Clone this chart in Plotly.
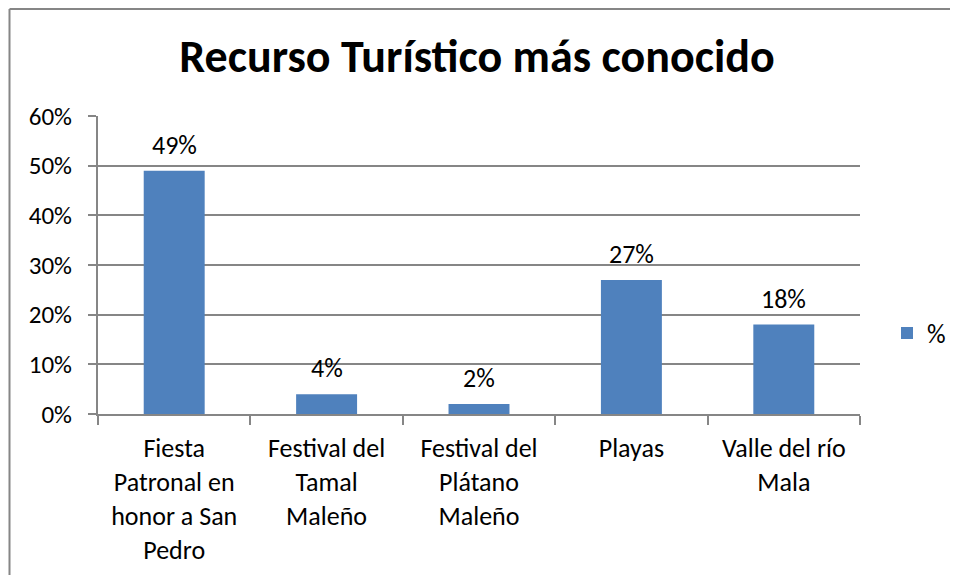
import plotly.graph_objects as go

categories = ["Fiesta<br>Patronal en<br>honor a San<br>Pedro",
              "Festival del<br>Tamal<br>Maleño",
              "Festival del<br>Plátano<br>Maleño",
              "Playas",
              "Valle del río<br>Mala"]
values = [0.49, 0.04, 0.02, 0.27, 0.18]
value_labels = ["49%", "4%", "2%", "27%", "18%"]
tick_vals = [0, 0.1, 0.2, 0.3, 0.4, 0.5, 0.6]
tick_text = ["0%", "10%", "20%", "30%", "40%", "50%", "60%"]
series_name = "%"
title_text = "Recurso Turístico más conocido"

FONT = "Carlito, Lato, sans-serif"
OFF = 8  # page body margin
W, H = 958 - OFF, 575 - OFF
L, T = 98 - OFF, 116 - OFF
R = W - (860 - OFF)
B = H - (414 - OFF)
pw, ph = W - L - R, H - T - B

def px_to_paper_x(px):
    return (px - OFF - L) / pw

def px_to_paper_y(py):
    return 1 - (py - OFF - T) / ph

fig = go.Figure()
fig.add_trace(go.Bar(
    x=categories, y=values, name=series_name,
    marker=dict(color="#4F81BD", line=dict(color="#4F81BD", width=0)),
    showlegend=True,
))

for c, v, t in zip(categories, values, value_labels):
    fig.add_annotation(x=c, y=v, text=t, showarrow=False, yanchor="bottom",
                       yshift=8, font=dict(family=FONT, size=26, color="#000000"))

fig.update_layout(
    width=W, height=H,
    margin=dict(l=L, r=R, t=T, b=B, pad=0, autoexpand=False),
    paper_bgcolor="white", plot_bgcolor="white",
    font=dict(family=FONT, color="#000000"),
    title=dict(text="<b>" + title_text + "</b>", xref="container",
               x=(477 - OFF) / W, xanchor="center",
               y=1 - (56 - OFF) / H, yanchor="middle",
               font=dict(family=FONT, size=46, color="#000000")),
    bargap=0.6,
    legend=dict(x=px_to_paper_x(887), y=px_to_paper_y(333), xanchor="left", yanchor="middle",
                font=dict(family=FONT, size=26), bgcolor="rgba(0,0,0,0)"),
    xaxis=dict(showline=True, linecolor="#868686", linewidth=2, ticks="outside",
               tickson="boundaries", ticklen=9, tickcolor="#868686", tickwidth=2,
               tickfont=dict(family=FONT, size=26), showgrid=False,
               ticklabelstandoff=10, automargin=False),
    yaxis=dict(range=[0, 0.6], tickvals=tick_vals, ticktext=tick_text,
               showline=True, linecolor="#868686", linewidth=2, ticks="outside",
               ticklen=8, tickcolor="#868686", tickwidth=2,
               showgrid=True, gridcolor="#868686", gridwidth=2,
               tickfont=dict(family=FONT, size=25), zeroline=False,
               ticklabelstandoff=11, automargin=False),
)

# outer chart border (left and top)
fig.add_shape(type="line", xref="paper", yref="paper",
              x0=px_to_paper_x(9.5), x1=px_to_paper_x(9.5),
              y0=px_to_paper_y(9), y1=px_to_paper_y(580),
              line=dict(color="#868686", width=2))
fig.add_shape(type="line", xref="paper", yref="paper",
              x0=px_to_paper_x(9.5), x1=px_to_paper_x(965),
              y0=px_to_paper_y(9), y1=px_to_paper_y(9),
              line=dict(color="#868686", width=2))

fig.write_html("out.html")
